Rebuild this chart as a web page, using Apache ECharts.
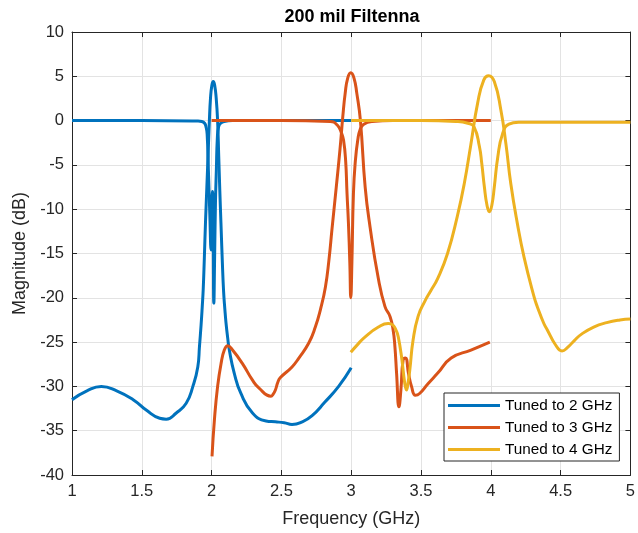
<!DOCTYPE html>
<html>
<head>
<meta charset="utf-8">
<script src="https://cdn.jsdelivr.net/npm/echarts@6/dist/echarts.min.js"></script>
<style>
  html, body { margin: 0; padding: 0; background: #fff; }
  #chart { width: 638px; height: 533px; }
</style>
</head>
<body>
<div id="chart"></div>
<script>
// Frequency (GHz) and magnitude (dB) samples for each filter response.
// Every tuning state has a transmission curve and a reflection curve.

// Tuned to 2 GHz
const blueGainF  = [1.00, 1.107, 1.21, 1.32, 1.438, 1.534, 1.628, 1.675, 1.747, 1.818, 1.866, 1.901, 1.913, 1.925, 1.933, 1.94, 1.948, 1.956, 1.966, 1.975, 1.984, 1.992, 2.002, 2.012, 2.022, 2.033, 2.043, 2.051, 2.059, 2.067, 2.077, 2.086, 2.095, 2.103, 2.115, 2.127, 2.162, 2.21, 2.293, 2.39, 2.457, 2.52, 2.576, 2.65, 2.72, 2.81, 2.91, 3.00];
const blueGainDb = [-31.5, -30.5, -30.0, -30.5, -31.5, -32.7, -33.6, -33.7, -33.0, -31.9, -30.0, -27.8, -25.5, -23.0, -21.0, -19.0, -15.5, -11.6, -7.5, -3.8, 0.0, 2.5, 4.0, 4.4, 4.0, 2.5, 0.0, -4.0, -8.0, -11.6, -16.0, -19.3, -21.3, -22.8, -24.5, -25.9, -28.5, -30.8, -33.0, -33.9, -34.0, -34.1, -34.3, -34.0, -33.3, -31.8, -30.0, -27.9];
const blueRetF   = [1.00, 1.50, 1.90, 1.93, 1.95, 1.96, 1.968, 1.977, 1.987, 1.996, 2.001, 2.006, 2.011, 2.016, 2.022, 2.028, 2.034, 2.041, 2.05, 2.065, 2.09, 2.15, 2.50, 3.00];
const blueRetDb  = [0.0, 0.0, -0.05, -0.1, -0.3, -0.7, -1.5, -5.6, -10.5, -14.6, -11.0, -8.0, -12.0, -20.6, -15.0, -9.0, -5.6, -2.0, -0.7, -0.3, -0.1, 0.0, 0.0, 0.0];

// Tuned to 3 GHz
const redGainF   = [2.003, 2.02, 2.043, 2.068, 2.091, 2.115, 2.15, 2.22, 2.293, 2.34, 2.425, 2.44, 2.457, 2.475, 2.493, 2.576, 2.625, 2.696, 2.743, 2.78, 2.815, 2.84, 2.862, 2.893, 2.92, 2.94, 2.957, 2.975, 2.997, 3.02, 3.04, 3.066, 3.10, 3.135, 3.194, 3.242, 3.278, 3.30, 3.313, 3.325, 3.342, 3.356, 3.372, 3.389, 3.41, 3.432, 3.46, 3.49, 3.55, 3.62, 3.716, 3.858, 3.993];
const redGainDb  = [-37.9, -33.8, -30.0, -27.4, -25.9, -25.4, -25.9, -27.4, -29.3, -30.2, -31.1, -30.9, -30.4, -29.5, -29.0, -27.8, -26.8, -25.1, -23.3, -21.3, -18.8, -15.8, -12.3, -7.5, -3.2, 0.5, 3.1, 4.8, 5.4, 4.8, 3.1, 0.0, -7.5, -12.0, -17.8, -21.0, -22.1, -23.6, -25.5, -28.5, -32.3, -30.4, -27.0, -26.8, -28.5, -30.0, -31.0, -30.8, -29.7, -28.5, -26.8, -25.9, -25.0];
const redRetF    = [2.00, 2.50, 2.85, 2.90, 2.93, 2.945, 2.96, 2.97, 2.98, 2.99, 2.997, 3.005, 3.016, 3.03, 3.047, 3.064, 3.09, 3.15, 3.30, 4.00];
const redRetDb   = [0.0, 0.0, -0.1, -0.5, -1.4, -2.2, -4.5, -8.2, -11.5, -16.0, -20.0, -16.0, -8.2, -4.5, -2.2, -1.0, -0.4, -0.1, 0.0, 0.0];

// Tuned to 4 GHz
const yellowGainF  = [2.997, 3.05, 3.10, 3.195, 3.265, 3.30, 3.325, 3.337, 3.36, 3.384, 3.396, 3.408, 3.42, 3.443, 3.479, 3.527, 3.57, 3.62, 3.69, 3.76, 3.81, 3.858, 3.906, 3.95, 3.985, 4.025, 4.072, 4.108, 4.143, 4.19, 4.238, 4.31, 4.333, 4.38, 4.404, 4.463, 4.51, 4.55, 4.60, 4.65, 4.737, 4.83, 4.925, 5.00];
const yellowGainDb = [-26.15, -25.2, -24.4, -23.3, -22.9, -23.1, -23.8, -24.4, -26.6, -29.7, -30.4, -29.5, -28.1, -24.8, -22.1, -20.4, -19.2, -17.8, -15.0, -10.8, -7.1, -2.6, 2.0, 4.6, 5.07, 4.4, 1.2, -2.6, -7.1, -11.6, -15.4, -19.9, -21.0, -22.9, -23.6, -25.3, -26.0, -25.6, -24.8, -24.1, -23.3, -22.8, -22.5, -22.4];
const yellowRetF   = [3.00, 3.50, 3.75, 3.835, 3.88, 3.918, 3.935, 3.954, 3.972, 3.99, 4.008, 4.025, 4.05, 4.084, 4.13, 4.20, 4.50, 5.00];
const yellowRetDb  = [0.0, 0.0, -0.1, -0.3, -0.7, -2.9, -4.8, -7.5, -9.5, -10.3, -9.5, -7.5, -4.1, -1.5, -0.4, -0.2, -0.2, -0.2];

const seriesNames = ['Tuned to 2 GHz', 'Tuned to 3 GHz', 'Tuned to 4 GHz'];
const seriesColors = ['#0072BD', '#D95319', '#EDB120'];

const xTicks = { min: 1, max: 5, step: 0.5 };
const yTicks = { min: -40, max: 10, step: 5 };

const FONT = "'Liberation Sans', Arial, Helvetica, sans-serif";
const AXIS_COLOR = '#262626';
const GRID_COLOR = '#e3e3e3';

function pairs(f, db) {
  return f.map((v, i) => [v, db[i]]);
}

function curve(name, color, f, db) {
  return {
    name: name,
    type: 'line',
    data: pairs(f, db),
    smooth: 0.5,
    showSymbol: false,
    symbol: 'none',
    lineStyle: { color: color, width: 3 },
    itemStyle: { color: color },
    emphasis: { disabled: true },
    xAxisIndex: 0,
    yAxisIndex: 0
  };
}

const chart = echarts.init(document.getElementById('chart'), null, { renderer: 'canvas' });

const baseX = {
  type: 'value', min: xTicks.min, max: xTicks.max, interval: xTicks.step,
  axisLine: { show: true, onZero: false, lineStyle: { color: AXIS_COLOR, width: 1 } },
  axisTick: { show: true, inside: true, length: 5, lineStyle: { color: AXIS_COLOR } }
};
const baseY = {
  type: 'value', min: yTicks.min, max: yTicks.max, interval: yTicks.step,
  axisLine: { show: true, onZero: false, lineStyle: { color: AXIS_COLOR, width: 1 } },
  axisTick: { show: true, inside: true, length: 5, lineStyle: { color: AXIS_COLOR } }
};

chart.setOption({
  animation: false,
  backgroundColor: '#ffffff',
  title: {
    text: '200 mil Filtenna',
    left: 352,
    top: 8,
    padding: 0,
    textAlign: 'center',
    textStyle: { fontFamily: FONT, fontSize: 18, fontWeight: 'bold', color: '#000' }
  },
  grid: { left: 72, right: 6, top: 32, bottom: 58 },
  xAxis: [
    Object.assign({}, baseX, {
      position: 'bottom',
      name: 'Frequency (GHz)',
      nameLocation: 'middle',
      nameGap: 35,
      nameTextStyle: { fontFamily: FONT, fontSize: 18, color: AXIS_COLOR },
      axisLabel: { fontFamily: FONT, fontSize: 16.5, color: AXIS_COLOR, margin: 8 },
      splitLine: { show: true, lineStyle: { color: GRID_COLOR, width: 1 } }
    }),
    Object.assign({}, baseX, {
      position: 'top',
      axisLabel: { show: false },
      splitLine: { show: false }
    })
  ],
  yAxis: [
    Object.assign({}, baseY, {
      position: 'left',
      name: 'Magnitude (dB)',
      nameLocation: 'middle',
      nameGap: 35,
      nameTextStyle: { fontFamily: FONT, fontSize: 18, color: AXIS_COLOR },
      axisLabel: { fontFamily: FONT, fontSize: 16.5, color: AXIS_COLOR, margin: 8 },
      splitLine: { show: true, lineStyle: { color: GRID_COLOR, width: 1 } }
    }),
    Object.assign({}, baseY, {
      position: 'right',
      axisLabel: { show: false },
      splitLine: { show: false }
    })
  ],
  legend: {
    orient: 'vertical',
    left: 444,
    top: 393,
    padding: [5, 7, 4, 4],
    itemGap: 7,
    itemWidth: 52,
    itemHeight: 3,
    icon: 'rect',
    backgroundColor: '#ffffff',
    borderColor: AXIS_COLOR,
    borderWidth: 1,
    borderRadius: 0,
    selectedMode: false,
    textStyle: { fontFamily: FONT, fontSize: 15.3, color: '#000', padding: [0, 0, 0, 0] },
    data: seriesNames
  },
  series: [
    curve(seriesNames[0], seriesColors[0], blueGainF, blueGainDb),
    curve(seriesNames[0], seriesColors[0], blueRetF, blueRetDb),
    curve(seriesNames[1], seriesColors[1], redGainF, redGainDb),
    curve(seriesNames[1], seriesColors[1], redRetF, redRetDb),
    curve(seriesNames[2], seriesColors[2], yellowGainF, yellowGainDb),
    curve(seriesNames[2], seriesColors[2], yellowRetF, yellowRetDb)
  ]
});
</script>
</body>
</html>
